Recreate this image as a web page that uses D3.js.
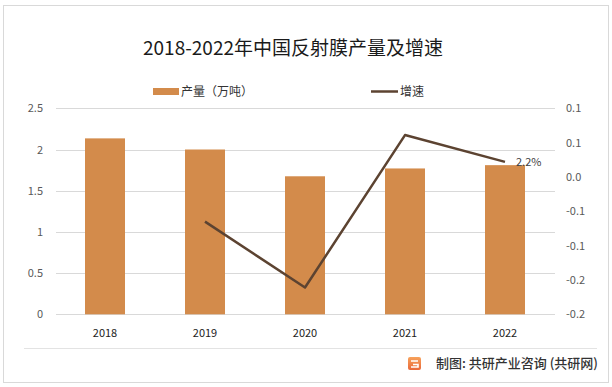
<!DOCTYPE html>
<html>
<head>
<meta charset="utf-8">
<script src="https://cdn.jsdelivr.net/npm/d3@7"></script>
<style>
  body { margin: 0; background: #fff; }
  text { font-family: "Noto Sans CJK SC", "Noto Sans", sans-serif; }
</style>
</head>
<body>
<div id="chart"></div>
<script>
// data
const years = ['2018', '2019', '2020', '2021', '2022'];
const output = [2.135, 2.0, 1.675, 1.77, 1.81];
const growth = [null, -0.065, -0.161, 0.061, 0.022];
const leftTicks = [0, 0.5, 1, 1.5, 2, 2.5];
const rightTicks = [-0.2, -0.15, -0.1, -0.05, 0, 0.05, 0.1];

const W = 612, H = 387;
const svg = d3.select('#chart').append('svg').attr('width', W).attr('height', H);

// outer frame
svg.append('rect').attr('x', 3.5).attr('y', 5.5).attr('width', 605).attr('height', 377)
  .attr('fill', '#fff').attr('stroke', '#d9d9d9');

const plot = { left: 55, right: 555, top: 108.3, bottom: 314.3 };

const x = d3.scaleBand().domain(years).range([plot.left, plot.right]);
const yL = d3.scaleLinear().domain([0, 2.5]).range([plot.bottom, plot.top]);
const yR = d3.scaleLinear().domain([-0.2, 0.1]).range([plot.bottom, plot.top]);

// gridlines
svg.append('g').selectAll('line').data(leftTicks).join('line')
  .attr('x1', plot.left + 1).attr('x2', plot.right)
  .attr('y1', d => Math.round(yL(d)) + 0.5).attr('y2', d => Math.round(yL(d)) + 0.5)
  .attr('stroke', '#d9d9d9').attr('stroke-width', 1);

// left axis labels
svg.append('g').selectAll('text').data(leftTicks).join('text')
  .attr('x', 43).attr('y', d => yL(d) + 4)
  .attr('text-anchor', 'end').attr('font-size', 11).attr('fill', '#595959')
  .text(d => d);

// right axis labels (Excel one-decimal format)
const fmtR = v => {
  const r = Math.sign(v) * Math.round(Math.abs(v) * 10 + 1e-9) / 10;
  return (r < 0 ? '-' : '') + Math.abs(r).toFixed(1);
};
svg.append('g').selectAll('text').data(rightTicks).join('text')
  .attr('x', 566).attr('y', d => yR(d) + 4)
  .attr('text-anchor', 'start').attr('font-size', 11).attr('fill', '#595959')
  .text(d => fmtR(d));

// bars
const barW = 40;
svg.append('g').selectAll('rect').data(output).join('rect')
  .attr('x', (d, i) => x(years[i]) + x.bandwidth() / 2 - barW / 2)
  .attr('y', d => yL(d))
  .attr('width', barW)
  .attr('height', d => plot.bottom - yL(d))
  .attr('fill', '#D38B4B');

// category labels
svg.append('g').selectAll('text').data(years).join('text')
  .attr('x', d => x(d) + x.bandwidth() / 2).attr('y', 337)
  .attr('text-anchor', 'middle').attr('font-size', 11).attr('fill', '#222')
  .text(d => d);

// growth line
const pts = growth.map((g, i) => ({ year: years[i], g })).filter(d => d.g !== null);
const line = d3.line().x(d => x(d.year) + x.bandwidth() / 2).y(d => yR(d.g));
svg.append('path').datum(pts).attr('d', line)
  .attr('fill', 'none').attr('stroke', '#5C4331').attr('stroke-width', 2.5)
  .attr('stroke-linejoin', 'round');

// label on last point
const last = pts[pts.length - 1];
svg.append('text')
  .attr('x', x(last.year) + x.bandwidth() / 2 + 11).attr('y', yR(last.g) + 4)
  .attr('font-size', 11).attr('fill', '#404040')
  .text((last.g * 100).toFixed(1) + '%');

// title
svg.append('text').attr('x', 293).attr('y', 55)
  .attr('text-anchor', 'middle').attr('font-size', 19).attr('fill', '#1a1a1a')
  .text('2018-2022年中国反射膜产量及增速');

// legend
svg.append('rect').attr('x', 153).attr('y', 88).attr('width', 26).attr('height', 7).attr('fill', '#D38B4B');
svg.append('text').attr('x', 181).attr('y', 96).attr('font-size', 12).attr('fill', '#333')
  .text('产量（万吨）');
svg.append('line').attr('x1', 371).attr('x2', 398).attr('y1', 91.5).attr('y2', 91.5)
  .attr('stroke', '#5C4331').attr('stroke-width', 2.5);
svg.append('text').attr('x', 400).attr('y', 96).attr('font-size', 12).attr('fill', '#333')
  .text('增速');

// footer separator
svg.append('line').attr('x1', 24).attr('x2', 597).attr('y1', 348.5).attr('y2', 348.5)
  .attr('stroke', '#e3e3e3');

// footer icon
const grad = svg.append('defs').append('linearGradient').attr('id', 'ig')
  .attr('x1', 0).attr('y1', 0).attr('x2', 0).attr('y2', 1);
grad.append('stop').attr('offset', 0).attr('stop-color', '#F7A25B');
grad.append('stop').attr('offset', 1).attr('stop-color', '#E9683A');
svg.append('rect').attr('x', 408).attr('y', 357).attr('width', 13).attr('height', 13)
  .attr('rx', 2).attr('fill', 'url(#ig)');
svg.append('path').attr('d', 'M411 361 H418 M413 364.5 H418 V367 H411')
  .attr('fill', 'none').attr('stroke', '#fff').attr('stroke-width', 1.6);

svg.append('text').attr('x', 598).attr('y', 368)
  .attr('text-anchor', 'end').attr('font-size', 13).attr('font-weight', 500).attr('fill', '#333')
  .text('制图: 共研产业咨询 (共研网)');
</script>
</body>
</html>
